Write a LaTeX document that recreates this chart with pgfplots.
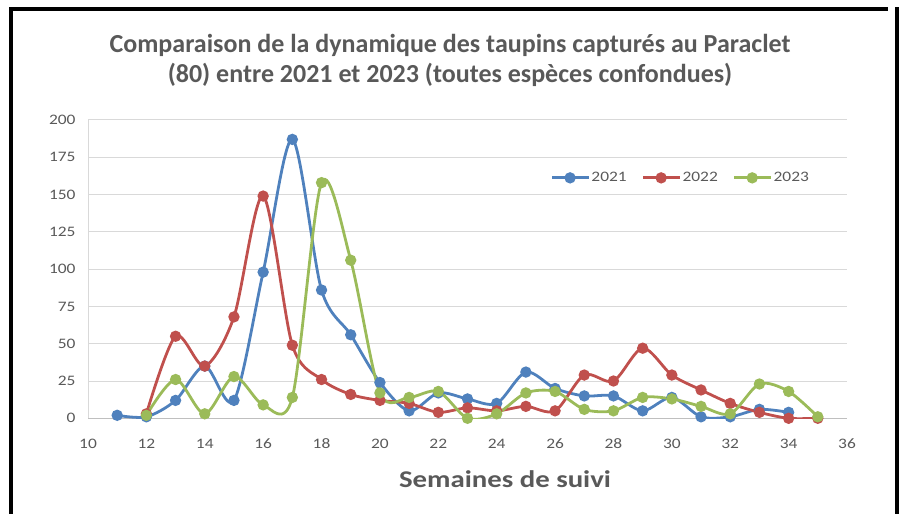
\documentclass[border=0pt]{standalone}
\usepackage{pgfplots}
\pgfplotsset{compat=1.18}
\usepackage{fontspec}
\setmainfont{Carlito}
\newfontfamily\widefont[FakeStretch=1.2]{Carlito}
\definecolor{cblue}{HTML}{4F81BD}
\definecolor{cred}{HTML}{C0504D}
\definecolor{cgreen}{HTML}{9BBB59}
\definecolor{txt}{HTML}{595959}
\definecolor{gridc}{HTML}{D9D9D9}
\definecolor{axc}{HTML}{BFBFBF}
\begin{document}
\begin{tikzpicture}[x=1pt,y=1pt]
\path[use as bounding box] (0,0) rectangle (901,514);
\fill[black] (9,0) rectangle (13,507);
\fill[black] (9,503) rectangle (888,507);
\fill[black] (895,0) rectangle (899,507);
\node[font=\fontsize{26}{30}\selectfont\bfseries, text=txt] at (450,469) {Comparaison de la dynamique des taupins capturés au Paraclet};
\node[font=\fontsize{26}{30}\selectfont\bfseries, text=txt] at (450,439) {(80) entre 2021 et 2023 (toutes espèces confondues)};
\node[font=\widefont\fontsize{24}{28}\selectfont\bfseries, text=txt] at (505,35) {Semaines de suivi};
\begin{axis}[
  at={(88pt,95.7pt)}, anchor=south west,
  scale only axis, width=759pt, height=298.3pt,
  xmin=10, xmax=36, ymin=0, ymax=200,
  xtick={10,12,...,36}, ytick={0,25,...,200},
  axis x line*=bottom, axis y line*=left,
  x axis line style={draw=axc, line width=1pt, -},
  y axis line style={draw=gridc, line width=1pt, -},
  ymajorgrids, grid style={draw=gridc, line width=1pt},
  major tick length=0pt,
  ticklabel style={font=\widefont\fontsize{14.5}{16}\selectfont, text=txt},
  /pgf/number format/assume math mode=true,
  xticklabel style={yshift=-17pt},
  yticklabel style={xshift=-9pt},
  legend style={at={(0.781,0.806)}, anchor=center, draw=none, fill=none,
    font=\widefont\fontsize{14.5}{16}\selectfont, text=txt,
    /tikz/every even column/.append style={column sep=13pt}},
  legend columns=3,
  legend image code/.code={\draw[mark repeat=2,mark phase=2,#1] plot coordinates {(0pt,0pt) (18pt,0pt) (36pt,0pt)};},
  every axis plot/.append style={line width=2.8pt, mark=*, mark size=4.2pt, smooth},
]
\addplot[cblue, mark options={fill=cblue}] coordinates {(11,2)(12,1)(13,12)(14,35)(15,12)(16,98)(17,187)(18,86)(19,56)(20,24)(21,5)(22,17)(23,13)(24,10)(25,31)(26,20)(27,15)(28,15)(29,5)(30,14)(31,1)(32,1)(33,6)(34,4)};
\addlegendentry{2021}
\addplot[cred, mark options={fill=cred}] coordinates {(12,3)(13,55)(14,35)(15,68)(16,149)(17,49)(18,26)(19,16)(20,12)(21,10)(22,4)(23,7)(24,5)(25,8)(26,5)(27,29)(28,25)(29,47)(30,29)(31,19)(32,10)(33,4)(34,0)(35,0)};
\addlegendentry{2022}
\addplot[cgreen, mark options={fill=cgreen}] coordinates {(12,2)(13,26)(14,3)(15,28)(16,9)(17,14)(18,158)(19,106)(20,17)(21,14)(22,18)(23,0)(24,3)(25,17)(26,18)(27,6)(28,5)(29,14)(30,13)(31,8)(32,3)(33,23)(34,18)(35,1)};
\addlegendentry{2023}
\end{axis}
\end{tikzpicture}
\end{document}
